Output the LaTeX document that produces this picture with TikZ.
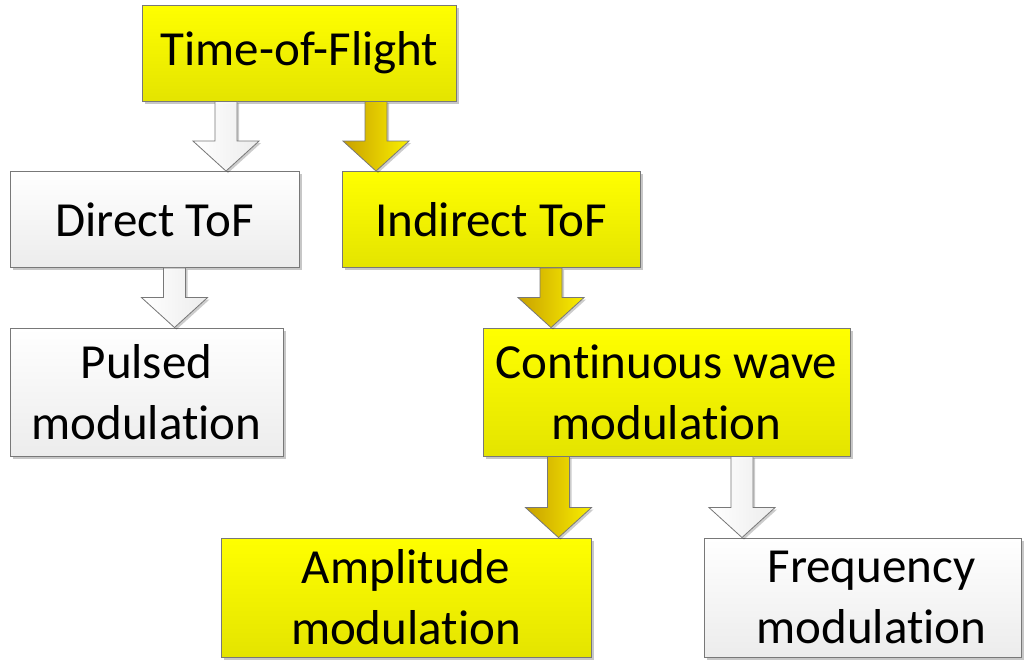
\documentclass[tikz,border=0pt]{standalone}
\usepackage{fontspec}
\setmainfont[Ligatures={NoCommon}]{Carlito}
\usetikzlibrary{calc,shadows}

\definecolor{edgegray}{RGB}{120,120,120}
\definecolor{ytop}{RGB}{255,255,0}
\definecolor{ybot}{RGB}{228,228,0}
\definecolor{wtop}{RGB}{255,255,255}
\definecolor{wbot}{RGB}{236,236,236}
\definecolor{goldL}{RGB}{200,160,0}
\definecolor{goldR}{RGB}{250,240,0}

\tikzset{
  boxbase/.style={draw=edgegray, line width=0.9pt, inner sep=0pt, align=center,
    font=\fontsize{49}{61}\selectfont,
    drop shadow={shadow xshift=2.5pt, shadow yshift=-2.5pt, opacity=0.22, fill=black}},
  ybox/.style={boxbase, top color=ytop, bottom color=ybot},
  wbox/.style={boxbase, top color=wtop, bottom color=wbot},
  arrowbase/.style={draw=edgegray, line width=0.8pt, line join=miter,
    drop shadow={shadow xshift=2pt, shadow yshift=-2pt, opacity=0.2, fill=black}},
  goldarrow/.style={arrowbase, left color=goldL, right color=goldR},
  whitearrow/.style={arrowbase, left color=wtop, right color=wbot},
}

% block arrow at horizontal position #1 from node #2 down to node #3
\newcommand\blockarr[4]{%
  \path[#4] let \p1=(#2.south), \p2=(#3.north) in
    ({(#1-11)*1pt},\y1) -- ({(#1-11)*1pt},{\y2+30pt}) -- ({(#1-33)*1pt},{\y2+30pt})
    -- ({#1*1pt},\y2) -- ({(#1+33)*1pt},{\y2+30pt}) -- ({(#1+11)*1pt},{\y2+30pt})
    -- ({(#1+11)*1pt},\y1) -- cycle;}

\begin{document}
\begin{tikzpicture}[x=1pt,y=-1pt]
\useasboundingbox (0,0) rectangle (1028,659);

\node[ybox, minimum width=314pt, minimum height=96pt] (tof) at (299.5,53) {Time-of-Flight};
\node[wbox, minimum width=289pt, minimum height=96pt] (direct) at (154.5,219.5) {Direct ToF};
\node[ybox, minimum width=298pt, minimum height=96pt] (indirect) at (491,219.5) {Indirect ToF};
\node[wbox, minimum width=273pt, minimum height=128pt] (pulsed) at (146.5,392) {Pulsed\\modulation};
\node[ybox, minimum width=367pt, minimum height=128pt] (cw) at (666.5,392) {Continuous wave\\modulation};
\node[ybox, minimum width=370pt, minimum height=119pt] (amp) at (406,597.5) {Amplitude\\modulation};
\node[wbox, minimum width=317pt, minimum height=119pt, inner xsep=0pt] (freq) at (862.5,597.5) {\hspace*{18pt}Frequency\\\hspace*{18pt}modulation};

\blockarr{226}{tof}{direct}{whitearrow}
\blockarr{376}{tof}{indirect}{goldarrow}
\blockarr{174.5}{direct}{pulsed}{whitearrow}
\blockarr{551}{indirect}{cw}{goldarrow}
\blockarr{558.5}{cw}{amp}{goldarrow}
\blockarr{742}{cw}{freq}{whitearrow}
\end{tikzpicture}
\end{document}
